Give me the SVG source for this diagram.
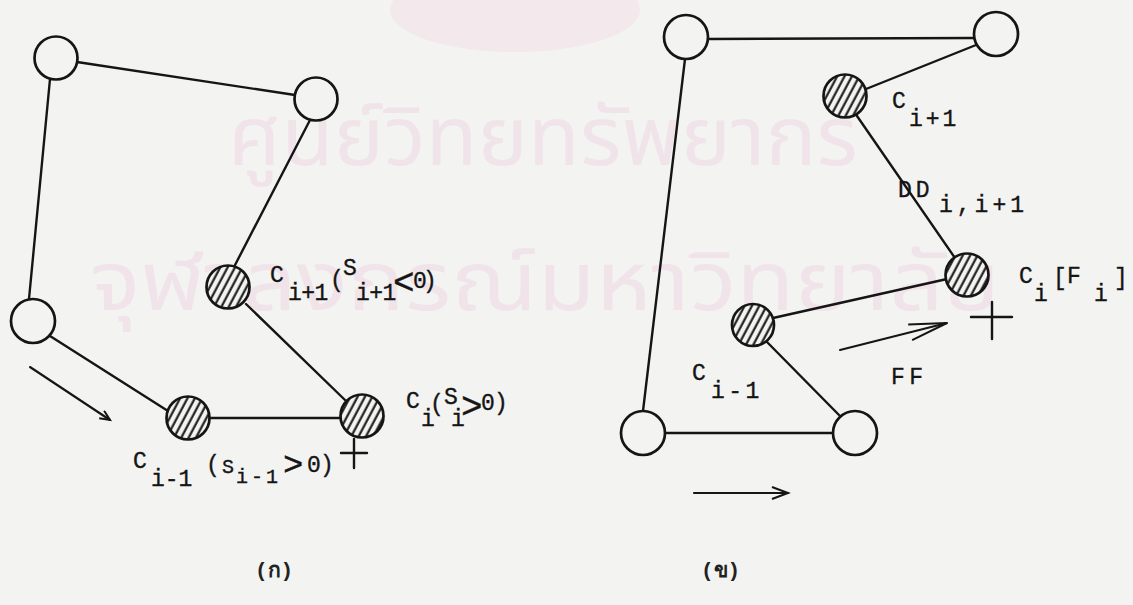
<svg xmlns="http://www.w3.org/2000/svg" width="1133" height="605" viewBox="0 0 1133 605">
<style>
.ln{stroke:#151515;stroke-width:2.4;fill:none;stroke-linecap:round}
.ar{stroke:#151515;stroke-width:2.1;fill:none;stroke-linecap:round}
.nd{stroke:#151515;stroke-width:2.7;fill:#f3f3f1}
.hn{stroke:#151515;stroke-width:2.7;fill:url(#hatch)}
.t{font-family:"Liberation Mono","Courier New",monospace;fill:#151515;stroke:#151515;stroke-width:0.35;font-size:23px}
.big{font-size:36px}
.cap{font-family:"Liberation Mono","DejaVu Sans Mono","Noto Sans",sans-serif;fill:#222;font-size:21px;font-weight:bold}
.wm{font-family:"Noto Sans Thai","Noto Sans","DejaVu Sans",sans-serif;fill:#f0e4ea;font-size:82px}
</style>
<defs>
<pattern id="hatch" width="6.5" height="10" patternUnits="userSpaceOnUse" patternTransform="rotate(28)">
<rect width="6.5" height="10" fill="#f3f3f1"/>
<line x1="1.5" y1="-1" x2="1.5" y2="11" stroke="#151515" stroke-width="2.1"/>
</pattern>
<marker id="ahS" markerUnits="userSpaceOnUse" markerWidth="14" markerHeight="12" refX="11" refY="5" orient="auto">
<path d="M1,0.5 L11,5 L1,9.5" fill="none" stroke="#151515" stroke-width="2"/>
</marker>
<marker id="ahM" markerUnits="userSpaceOnUse" markerWidth="20" markerHeight="16" refX="17" refY="7" orient="auto">
<path d="M1,1 L17,7 L1,13" fill="none" stroke="#151515" stroke-width="2"/>
</marker>
<marker id="ahL" markerUnits="userSpaceOnUse" markerWidth="42" markerHeight="20" refX="39" refY="9" orient="auto">
<path d="M1,1 L39,9 L1,17" fill="none" stroke="#151515" stroke-width="2"/>
</marker>
</defs>
<rect width="1133" height="605" fill="#f3f3f1"/>
<g id="watermark">
<ellipse cx="515" cy="10" rx="125" ry="42" fill="#f3e8ec"/>
<text class="wm" x="228" y="165" textLength="630" lengthAdjust="spacingAndGlyphs">ศูนย์วิทยทรัพยากร</text>
<text class="wm" x="90" y="310" textLength="910" lengthAdjust="spacingAndGlyphs">จุฬาลงกรณ์มหาวิทยาลัย</text>
</g>
<g id="connectors">
<line class="ln" x1="77" y1="62" x2="295" y2="95"/>
<line class="ln" x1="50" y1="79" x2="29" y2="299"/>
<line class="ln" x1="310" y1="120" x2="234" y2="267"/>
<line class="ln" x1="246" y1="304" x2="345" y2="400"/>
<line class="ln" x1="50" y1="336" x2="168" y2="411"/>
<line class="ln" x1="209" y1="418" x2="341" y2="418"/>
<line class="ln" x1="708" y1="39" x2="974" y2="38"/>
<line class="ln" x1="685" y1="59" x2="643" y2="411"/>
<line class="ln" x1="976" y1="45" x2="866" y2="89"/>
<line class="ln" x1="857" y1="116" x2="955" y2="258"/>
<line class="ln" x1="773" y1="318" x2="947" y2="279"/>
<line class="ln" x1="767" y1="342" x2="839" y2="415"/>
<line class="ln" x1="665" y1="433" x2="833" y2="433"/>
<line class="ar" x1="30" y1="367" x2="110" y2="420" marker-end="url(#ahS)"/>
<line class="ar" x1="694" y1="493" x2="788" y2="493" marker-end="url(#ahM)"/>
<line class="ar" x1="840" y1="350" x2="947" y2="323" marker-end="url(#ahL)"/>
</g>
<g id="left-n1"><circle class="nd" cx="56" cy="58" r="21.5"/></g>
<g id="left-n2"><circle class="nd" cx="316" cy="99" r="21.5"/></g>
<g id="left-n3"><circle class="nd" cx="33" cy="321" r="22"/></g>
<g id="left-ci1"><circle class="hn" cx="228" cy="287" r="21.5"/>
<text class="t"><tspan x="270" y="282">C</tspan><tspan x="288" y="300" letter-spacing="-0.5">i+1</tspan><tspan x="330" y="287">(</tspan><tspan x="343" y="275">S</tspan><tspan x="356" y="300" letter-spacing="-0.5">i+1</tspan><tspan class="big" x="393" y="294">&lt;</tspan><tspan x="413" y="288">0</tspan><tspan x="423" y="288">)</tspan></text>
</g>
<g id="left-cim1"><circle class="hn" cx="188" cy="418" r="21.5"/>
<text class="t"><tspan x="133" y="468">C</tspan><tspan x="151" y="486">i-1</tspan><tspan x="206" y="472">(</tspan><tspan x="222" y="473" font-size="20">S</tspan><tspan x="236" y="483" font-size="20" letter-spacing="3">i-1</tspan><tspan x="283" y="475" font-size="34">&gt;</tspan><tspan x="307" y="472">0</tspan><tspan x="320" y="472">)</tspan></text>
<path class="ln" d="M341,453 H367 M354,439 V468"/>
</g>
<g id="left-ci"><circle class="hn" cx="362" cy="416" r="21.5"/>
<text class="t"><tspan x="406" y="408">C</tspan><tspan x="421" y="426">i</tspan><tspan x="430" y="411">(</tspan><tspan x="444" y="404">S</tspan><tspan x="451" y="426">i</tspan><tspan class="big" x="461" y="418">&gt;</tspan><tspan x="481" y="410">0</tspan><tspan x="494" y="410">)</tspan></text>
</g>
<g id="right-n1"><circle class="nd" cx="686" cy="37" r="22"/></g>
<g id="right-n2"><circle class="nd" cx="996" cy="34" r="22"/></g>
<g id="right-n3"><circle class="nd" cx="643" cy="433" r="22"/></g>
<g id="right-n4"><circle class="nd" cx="855" cy="433" r="22"/></g>
<g id="right-ci1"><circle class="hn" cx="845" cy="96" r="21.5"/>
<text class="t"><tspan x="892" y="108">C</tspan><tspan x="909" y="126" letter-spacing="3">i+1</tspan></text>
</g>
<g id="right-dd">
<text class="t"><tspan x="898" y="197" letter-spacing="4">DD</tspan><tspan x="939" y="212" letter-spacing="4">i,i+1</tspan></text>
</g>
<g id="right-ci"><circle class="hn" cx="967" cy="275" r="21.5"/>
<text class="t"><tspan x="1019" y="283">C</tspan><tspan x="1034" y="301">i</tspan><tspan x="1053" y="285">[</tspan><tspan x="1067" y="283">F</tspan><tspan x="1094" y="301">i</tspan><tspan x="1114" y="285">]</tspan></text>
<path class="ln" d="M971,317 H1012 M992,302 V339"/>
</g>
<g id="right-cim1"><circle class="hn" cx="753" cy="325" r="21"/>
<text class="t"><tspan x="692" y="380">C</tspan><tspan x="711" y="398" letter-spacing="3.5">i-1</tspan></text>
</g>
<g id="right-ff"><text class="t" x="891" y="384" letter-spacing="4.5">FF</text></g>
<g id="captions">
<text class="cap" x="255" y="577">(ก)</text>
<text class="cap" x="701" y="577">(ข)</text>
</g>
</svg>
